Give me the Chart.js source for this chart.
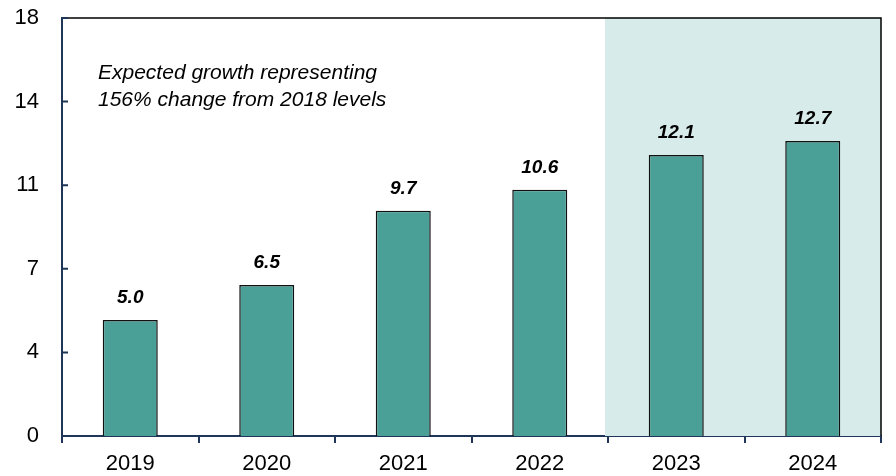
<!DOCTYPE html>
<html>
<head>
<meta charset="utf-8">
<script src="https://cdn.jsdelivr.net/npm/chart.js@4/dist/chart.umd.min.js"></script>
<style>
  html, body { margin: 0; padding: 0; background: #ffffff; }
  #wrap { width: 896px; height: 476px; position: relative; }
</style>
</head>
<body>
<div id="wrap"><canvas id="c" width="896" height="476"></canvas></div>
<script>
// Chart data
const years = ['2019', '2020', '2021', '2022', '2023', '2024'];
const values = [5.0, 6.5, 9.7, 10.6, 12.1, 12.7];
const yTickValues = [0, 3.6, 7.2, 10.8, 14.4, 18];
const yTickLabels = ['0', '4', '7', '11', '14', '18'];
const noteLines = ['Expected growth representing', '156% change from 2018 levels'];
const forecastFrom = '2023';

const BAR = '#4a9f97';
const SHADE = '#d7ecea';
const NAVY = '#1f3658';
const FONT = '"Liberation Sans", Arial, sans-serif';

// Light band behind the forecast years, frame lines and inward y ticks
const framePlugin = {
  id: 'frame',
  beforeDatasetsDraw(chart) {
    const { ctx, chartArea: a, scales: { x } } = chart;
    const idx = years.indexOf(forecastFrom);
    const left = x.getPixelForValue(idx - 0.5) - 3;
    ctx.save();
    ctx.fillStyle = SHADE;
    ctx.fillRect(left, a.top, a.right - left, a.bottom - a.top);
    ctx.restore();
  },
  afterDraw(chart) {
    const { ctx, chartArea: a, scales: { y } } = chart;
    ctx.save();
    ctx.strokeStyle = '#000000';
    ctx.lineWidth = 1.5;
    ctx.beginPath();
    ctx.moveTo(a.left, a.top);
    ctx.lineTo(a.right, a.top);
    ctx.lineTo(a.right, a.bottom);
    ctx.stroke();
    ctx.strokeStyle = NAVY;
    ctx.lineWidth = 2;
    ctx.beginPath();
    yTickValues.forEach(v => {
      const py = y.getPixelForValue(v);
      ctx.moveTo(a.left, py);
      ctx.lineTo(a.left + 6, py);
    });
    ctx.stroke();
    // note text
    ctx.fillStyle = '#000000';
    ctx.font = 'italic 21px ' + FONT;
    ctx.textAlign = 'left';
    ctx.textBaseline = 'alphabetic';
    noteLines.forEach((t, i) => ctx.fillText(t, 98, 79 + i * 27));
    ctx.restore();
  }
};

// Value labels above bars
const valueLabels = {
  id: 'valueLabels',
  afterDatasetsDraw(chart) {
    const { ctx } = chart;
    const meta = chart.getDatasetMeta(0);
    ctx.save();
    ctx.fillStyle = '#000000';
    ctx.font = 'italic bold 19px ' + FONT;
    ctx.textAlign = 'center';
    ctx.textBaseline = 'alphabetic';
    meta.data.forEach((bar, i) => {
      ctx.fillText(values[i].toFixed(1), bar.x, bar.y - 17);
    });
    ctx.restore();
  }
};

new Chart(document.getElementById('c'), {
  type: 'bar',
  data: {
    labels: years,
    datasets: [{
      data: values,
      backgroundColor: BAR,
      borderColor: '#111111',
      borderWidth: 1.5,
      borderSkipped: 'bottom',
      categoryPercentage: 1,
      barPercentage: 0.403
    }]
  },
  options: {
    responsive: false,
    animation: false,
    devicePixelRatio: 1,
    layout: { padding: { top: 18, right: 15, left: 0, bottom: 0 } },
    plugins: { legend: { display: false }, tooltip: { enabled: false } },
    scales: {
      x: {
        grid: { display: true, drawOnChartArea: false, drawTicks: true, tickLength: 7, color: NAVY, lineWidth: 2, offset: true },
        border: { display: true, color: NAVY, width: 2 },
        ticks: { color: '#000000', font: { family: FONT, size: 22 }, padding: 8 },
        afterFit(s) { s.height = 40; s.paddingLeft = 0; s.paddingRight = 0; }
      },
      y: {
        min: 0,
        max: 18,
        afterBuildTicks(s) { s.ticks = yTickValues.map(v => ({ value: v })); },
        grid: { display: false },
        border: { display: true, color: NAVY, width: 2 },
        ticks: {
          color: '#000000',
          font: { family: FONT, size: 22 },
          padding: 15,
          callback: (v, i) => yTickLabels[i]
        },
        afterFit(s) { s.width = 62; s.paddingTop = 0; s.paddingBottom = 0; }
      }
    }
  },
  plugins: [framePlugin, valueLabels]
});
</script>
</body>
</html>
